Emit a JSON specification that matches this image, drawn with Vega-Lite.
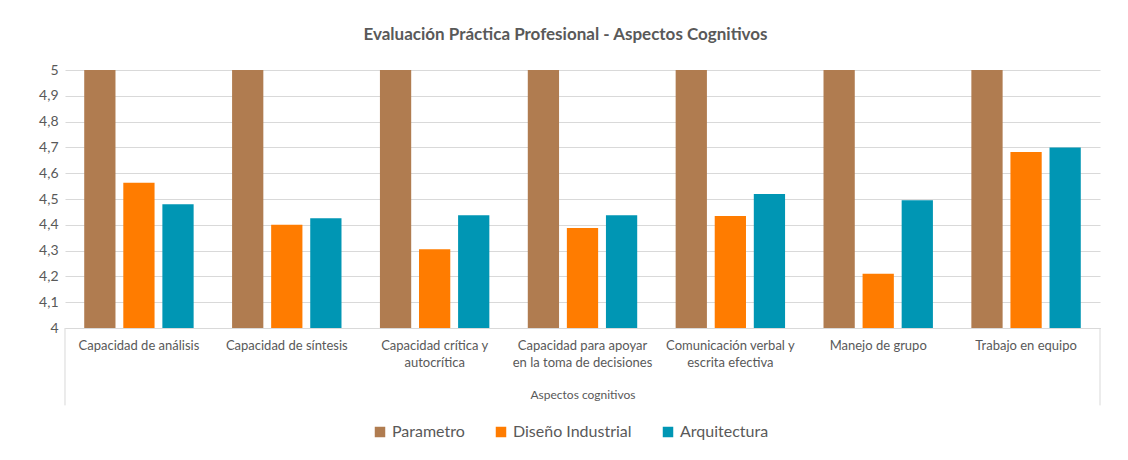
{
  "$schema": "https://vega.github.io/schema/vega-lite/v6.json",
  "autosize": {"type": "none"},
  "width": 1035,
  "height": 258,
  "padding": {"left": 65, "top": 70, "right": 28, "bottom": 132},
  "background": "#ffffff",
  "title": {
    "text": "Evaluación Práctica Profesional - Aspectos Cognitivos",
    "fontSize": 17,
    "fontWeight": "bold",
    "color": "#595959",
    "font": "Lato",
    "anchor": "middle",
    "dx": -17,
    "offset": 19
  },
  "config": {
    "font": "Lato",
    "view": {"stroke": null},
    "axis": {"labelColor": "#595959", "titleColor": "#595959"}
  },
  "data": {
    "values": [
      {"cat": "Capacidad de análisis", "serie": "Parametro", "valor": 5},
      {"cat": "Capacidad de análisis", "serie": "Diseño Industrial", "valor": 4.563},
      {"cat": "Capacidad de análisis", "serie": "Arquitectura", "valor": 4.48},
      {"cat": "Capacidad de síntesis", "serie": "Parametro", "valor": 5},
      {"cat": "Capacidad de síntesis", "serie": "Diseño Industrial", "valor": 4.4},
      {"cat": "Capacidad de síntesis", "serie": "Arquitectura", "valor": 4.425},
      {"cat": "Capacidad crítica y|autocrítica", "serie": "Parametro", "valor": 5},
      {"cat": "Capacidad crítica y|autocrítica", "serie": "Diseño Industrial", "valor": 4.305},
      {"cat": "Capacidad crítica y|autocrítica", "serie": "Arquitectura", "valor": 4.437},
      {"cat": "Capacidad para apoyar|en la toma de decisiones", "serie": "Parametro", "valor": 5},
      {"cat": "Capacidad para apoyar|en la toma de decisiones", "serie": "Diseño Industrial", "valor": 4.388},
      {"cat": "Capacidad para apoyar|en la toma de decisiones", "serie": "Arquitectura", "valor": 4.437},
      {"cat": "Comunicación verbal y|escrita efectiva", "serie": "Parametro", "valor": 5},
      {"cat": "Comunicación verbal y|escrita efectiva", "serie": "Diseño Industrial", "valor": 4.434},
      {"cat": "Comunicación verbal y|escrita efectiva", "serie": "Arquitectura", "valor": 4.519},
      {"cat": "Manejo de grupo", "serie": "Parametro", "valor": 5},
      {"cat": "Manejo de grupo", "serie": "Diseño Industrial", "valor": 4.21},
      {"cat": "Manejo de grupo", "serie": "Arquitectura", "valor": 4.495},
      {"cat": "Trabajo en equipo", "serie": "Parametro", "valor": 5},
      {"cat": "Trabajo en equipo", "serie": "Diseño Industrial", "valor": 4.682},
      {"cat": "Trabajo en equipo", "serie": "Arquitectura", "valor": 4.7}
    ]
  },
  "encoding": {
    "x": {
      "field": "cat",
      "type": "nominal",
      "sort": null,
      "scale": {"paddingInner": 0.26, "paddingOuter": 0.13},
      "axis": {
        "title": "Aspectos cognitivos",
        "titleFontSize": 12,
        "titleFontWeight": "normal",
        "titlePadding": 20,
        "labelAngle": 0,
        "labelFontSize": 13,
        "labelLineHeight": 17,
        "labelPadding": 11,
        "labelLimit": 200,
        "labelExpr": "split(datum.label, '|')",
        "ticks": false,
        "domainColor": "#D9D9D9",
        "domainWidth": 1
      }
    },
    "y": {
      "field": "valor",
      "type": "quantitative",
      "scale": {"domain": [4, 5], "nice": false, "zero": false},
      "axis": {
        "title": null,
        "values": [4, 4.1, 4.2, 4.3, 4.4, 4.5, 4.6, 4.7, 4.8, 4.9, 5],
        "labelExpr": "replace(format(datum.value, '.1~f'), '.', ',')",
        "labelFontSize": 14,
        "labelPadding": 7,
        "labelOverlap": false,
        "ticks": false,
        "domain": false,
        "gridColor": "#D9D9D9",
        "gridWidth": 1
      }
    }
  },
  "layer": [
    {
      "mark": {"type": "bar"},
      "encoding": {
        "xOffset": {
          "field": "serie",
          "type": "nominal",
          "sort": ["Parametro", "Diseño Industrial", "Arquitectura"],
          "scale": {"paddingInner": 0.2, "paddingOuter": 0}
        },
        "y2": {"datum": 4},
        "color": {
          "field": "serie",
          "type": "nominal",
          "sort": ["Parametro", "Diseño Industrial", "Arquitectura"],
          "scale": {
            "domain": ["Parametro", "Diseño Industrial", "Arquitectura"],
            "range": ["#B07C50", "#FF7C00", "#0096B4"]
          },
          "legend": {
            "title": null,
            "orient": "none",
            "direction": "horizontal",
            "legendX": 307,
            "legendY": 354,
            "symbolType": "square",
            "symbolSize": 110,
            "symbolStrokeWidth": 0,
            "labelFontSize": 16,
            "labelColor": "#595959",
            "labelOffset": 4,
            "columnPadding": 28
          }
        }
      }
    },
    {
      "transform": [{"filter": "datum.cat == 'Capacidad de análisis' && datum.serie == 'Parametro'"}],
      "mark": {"type": "rule", "color": "#D9D9D9", "strokeWidth": 1},
      "encoding": {
        "x": {"field": "cat", "type": "nominal", "bandPosition": -0.1757},
        "y": {"datum": 4},
        "y2": {"datum": 3.7}
      }
    },
    {
      "transform": [{"filter": "datum.cat == 'Trabajo en equipo' && datum.serie == 'Parametro'"}],
      "mark": {"type": "rule", "color": "#D9D9D9", "strokeWidth": 1},
      "encoding": {
        "x": {"field": "cat", "type": "nominal", "bandPosition": 1.1757},
        "y": {"datum": 4},
        "y2": {"datum": 3.7}
      }
    }
  ]
}
